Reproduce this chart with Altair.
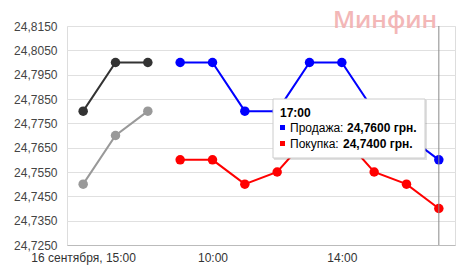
import altair as alt
import pandas as pd

# ---- data ----
slots = ["16 сентября, 15:00", "16:00", "17:00", "09:00", "10:00", "11:00",
         "12:00", "13:00", "14:00", "15:00", "16:00", "17:00"]
tick_slots = [0, 4, 8]
tick_labels = ["16 сентября, 15:00", "10:00", "14:00"]

prev_sell = [24.780, 24.800, 24.800]          # previous day, sale (dark)
prev_buy = [24.750, 24.770, 24.780]           # previous day, purchase (gray)
sell = [24.800, 24.800, 24.780, 24.780, 24.800, 24.800, 24.780, 24.770, 24.760]
buy = [24.760, 24.760, 24.750, 24.755, 24.770, 24.770, 24.755, 24.750, 24.740]

y_ticks = [24.725, 24.735, 24.745, 24.755, 24.765, 24.775, 24.785, 24.795, 24.805, 24.815]

series_names = ["prev_sell", "prev_buy", "sell", "buy"]
series_colors = ["#333333", "#999999", "#0000ff", "#ff0000"]

hover_slot = [11]
tip_title = "17:00"
tip_names = ["Продажа:", "Покупка:"]
tip_values = ["24,7600 грн.", "24,7400 грн."]
watermark = "Минфин"

rows = []
for i, v in enumerate(prev_sell):
    rows.append({"idx": i, "value": v, "series": "prev_sell"})
for i, v in enumerate(prev_buy):
    rows.append({"idx": i, "value": v, "series": "prev_buy"})
for i, v in enumerate(sell):
    rows.append({"idx": i + 3, "value": v, "series": "sell"})
for i, v in enumerate(buy):
    rows.append({"idx": i + 3, "value": v, "series": "buy"})
df = pd.DataFrame(rows)

label_expr = " : ".join(
    f"datum.value == {s} ? '{l}'" for s, l in zip(tick_slots, tick_labels)
) + " : ''"

FONT = "Liberation Sans"

x_enc = alt.X(
    "idx:Q",
    scale=alt.Scale(domain=[-0.5, len(slots) - 0.5], nice=False, zero=False),
    axis=alt.Axis(values=tick_slots, labelExpr=label_expr, grid=False, ticks=False,
                  domain=True, domainColor="#bbbbbb", labelPadding=7,
                  labelFont=FONT, labelFontSize=12, labelColor="#333333",
                  title=None, labelFlush=False, labelOverlap=False),
)
y_enc = alt.Y(
    "value:Q",
    scale=alt.Scale(domain=[y_ticks[0], y_ticks[-1]], nice=False, zero=False),
    axis=alt.Axis(values=y_ticks, labelExpr="replace(format(datum.value, '.4f'), '.', ',')",
                  grid=True, gridColor="#e0e0e0", ticks=False, domain=False,
                  labelPadding=10, labelFont=FONT, labelFontSize=12,
                  labelColor="#444444", title=None),
)
color_enc = alt.Color("series:N", scale=alt.Scale(domain=series_names, range=series_colors),
                      legend=None)

base = alt.Chart(df)
lines = base.mark_line(strokeWidth=2).encode(x=x_enc, y=y_enc, color=color_enc, detail="series:N")
points = base.mark_circle(size=90, opacity=1).encode(x=x_enc, y=y_enc, color=color_enc)

rule = alt.Chart(pd.DataFrame({"idx": hover_slot})).mark_rule(color="#8a8a8a", strokeWidth=1).encode(
    x=alt.X("idx:Q"), y=alt.value(0), y2=alt.value(219)
)

wm = alt.Chart(pd.DataFrame({"t": [watermark]})).mark_text(
    font="Open Sans", fontSize=24, fontWeight=600, color="#f2b0b0", opacity=0.9,
    align="center", baseline="alphabetic"
).encode(text="t:N", x=alt.value(318), y=alt.value(2))

shadow = alt.Chart(pd.DataFrame({"a": [0]})).mark_rect(fill="#000000", opacity=0.12).encode(
    x=alt.value(207), x2=alt.value(360), y=alt.value(74), y2=alt.value(134)
)
box = alt.Chart(pd.DataFrame({"a": [0]})).mark_rect(fill="white", stroke="#cccccc", strokeWidth=1).encode(
    x=alt.value(206), x2=alt.value(358), y=alt.value(73), y2=alt.value(132)
)
title_t = alt.Chart(pd.DataFrame({"t": [tip_title]})).mark_text(
    font=FONT, fontSize=12, fontWeight="bold", color="#000000", align="left", baseline="middle"
).encode(text="t:N", x=alt.value(213), y=alt.value(87))

sq1 = alt.Chart(pd.DataFrame({"a": [0]})).mark_rect(fill=series_colors[2]).encode(
    x=alt.value(213), x2=alt.value(218), y=alt.value(99), y2=alt.value(104))
sq2 = alt.Chart(pd.DataFrame({"a": [0]})).mark_rect(fill=series_colors[3]).encode(
    x=alt.value(213), x2=alt.value(218), y=alt.value(115), y2=alt.value(120))

n1 = alt.Chart(pd.DataFrame({"t": [tip_names[0]]})).mark_text(
    font=FONT, fontSize=12, color="#000000", align="left", baseline="middle"
).encode(text="t:N", x=alt.value(223), y=alt.value(102))
v1 = alt.Chart(pd.DataFrame({"t": [tip_values[0]]})).mark_text(
    font=FONT, fontSize=12, fontWeight="bold", color="#000000", align="left", baseline="middle"
).encode(text="t:N", x=alt.value(280), y=alt.value(102))
n2 = alt.Chart(pd.DataFrame({"t": [tip_names[1]]})).mark_text(
    font=FONT, fontSize=12, color="#000000", align="left", baseline="middle"
).encode(text="t:N", x=alt.value(223), y=alt.value(118))
v2 = alt.Chart(pd.DataFrame({"t": [tip_values[1]]})).mark_text(
    font=FONT, fontSize=12, fontWeight="bold", color="#000000", align="left", baseline="middle"
).encode(text="t:N", x=alt.value(276), y=alt.value(118))

chart = alt.layer(
    wm, lines, points, rule, shadow, box, title_t, sq1, sq2, n1, v1, n2, v2
).properties(
    width=388, height=219,
    padding={"left": 67, "top": 26, "right": 7, "bottom": 32},
    autosize=alt.AutoSizeParams(type="none"),
).configure_view(stroke=None).configure(background="white")

chart.save("out.html", embed_options={"renderer": "svg", "actions": False})
